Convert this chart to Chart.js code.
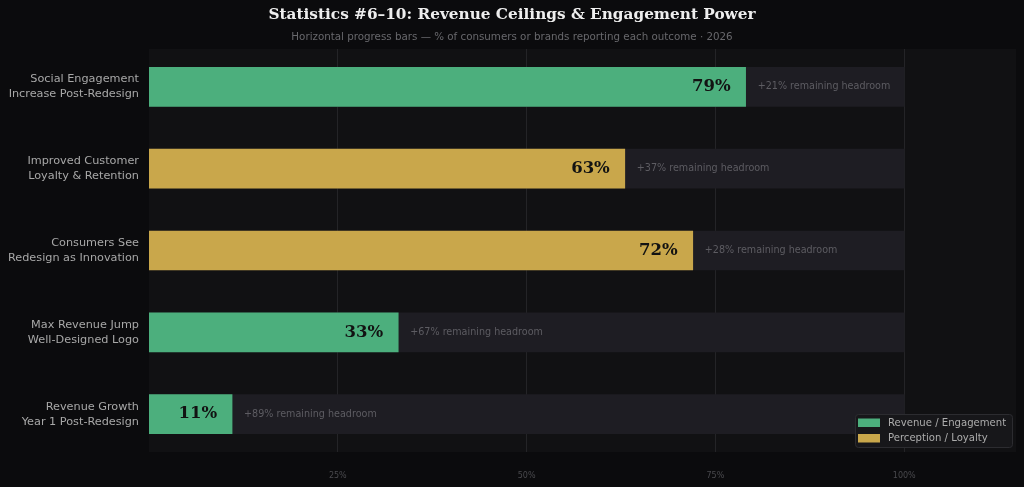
<!DOCTYPE html>
<html>
<head>
<meta charset="utf-8">
<script src="https://cdn.jsdelivr.net/npm/chart.js@4.4.1/dist/chart.umd.min.js"></script>
<style>
  html,body{margin:0;padding:0;background:#0b0b0d;}
  #wrap{width:1024px;height:487px;position:relative;}
</style>
</head>
<body>
<div id="wrap"><canvas id="c" width="1024" height="487"></canvas></div>
<script>
const titleText = 'Statistics #6–10: Revenue Ceilings & Engagement Power';
const subtitleText = 'Horizontal progress bars — % of consumers or brands reporting each outcome · 2026';
const categories = [
  ['Social Engagement','Increase Post-Redesign'],
  ['Improved Customer','Loyalty & Retention'],
  ['Consumers See','Redesign as Innovation'],
  ['Max Revenue Jump','Well-Designed Logo'],
  ['Revenue Growth','Year 1 Post-Redesign']
];
const values = [79, 63, 72, 33, 11];
const groups = ['rev', 'per', 'per', 'rev', 'rev'];
const trackValues = [100, 100, 100, 100, 100];
const xTicks = [25, 50, 75, 100];
const legendNames = ['Revenue / Engagement', 'Perception / Loyalty'];
const groupColors = { rev:'#4caf7d', per:'#c9a74b' };

const $ = (id) => document.getElementById(id);

const bgPlugin = {
  id:'bgPanel',
  beforeDraw(chart){
    const {ctx, chartArea:a} = chart;
    ctx.save();
    ctx.fillStyle = '#0b0b0d';
    ctx.fillRect(0,0,chart.width,chart.height);
    ctx.fillStyle = '#111113';
    ctx.fillRect(a.left, a.top+3, a.right-a.left, a.bottom-a.top-6);
    ctx.restore();
  },
  beforeDatasetsDraw(chart){
    // trim grid lines to the panel
    const {ctx, chartArea:a} = chart;
    ctx.save();
    ctx.fillStyle = '#0b0b0d';
    ctx.fillRect(a.left-1, a.top-1, a.right-a.left+2, 4);
    ctx.fillRect(a.left-1, a.bottom-3, a.right-a.left+2, 4);
    ctx.restore();
  },
  afterDraw(chart){
    const ctx = chart.ctx;
    ctx.save();
    ctx.textAlign = 'center'; ctx.textBaseline = 'middle';
    ctx.fillStyle = '#eeeeee';
    ctx.font = 'bold 15.3px "DejaVu Serif"';
    ctx.fillText(titleText, 512, 15);
    ctx.fillStyle = '#68686c';
    ctx.font = '10.3px "DejaVu Sans"';
    ctx.fillText(subtitleText, 512, 37);
    // legend
    const lx = 855, ly = 414, lw = 157, lh = 33;
    ctx.fillStyle = '#17171a';
    ctx.strokeStyle = '#2c2c30';
    ctx.lineWidth = 1;
    ctx.beginPath();
    ctx.roundRect(lx+0.5, ly+0.5, lw, lh, 3);
    ctx.fill(); ctx.stroke();
    const cols = [groupColors.rev, groupColors.per];
    legendNames.forEach((name,i)=>{
      const y = ly + 8.5 + i*15.5;
      ctx.fillStyle = cols[i];
      ctx.fillRect(lx+3, y-4, 22, 8.5);
      ctx.fillStyle = '#acacac';
      ctx.font = '10.1px "DejaVu Sans"';
      ctx.textAlign = 'left';
      ctx.fillText(name, lx+33, y+0.5);
    });
    ctx.restore();
  }
};

const labelPlugin = {
  id:'barLabels',
  afterDatasetsDraw(chart){
    const {ctx, scales:{x, y}} = chart;
    ctx.save();
    ctx.textBaseline = 'middle';
    values.forEach((v,i)=>{
      const px = x.getPixelForValue(v);
      const py = y.getPixelForValue(i);
      ctx.textAlign = 'right';
      ctx.fillStyle = '#121212';
      ctx.font = 'bold 16.5px "DejaVu Serif"';
      ctx.fillText(v + '%', px - 15, py);
      ctx.textAlign = 'left';
      ctx.fillStyle = '#5d5c62';
      ctx.font = '9.6px "DejaVu Sans"';
      ctx.fillText('+' + (100 - v) + '% remaining headroom', px + 12, py);
    });
    ctx.restore();
  }
};

new Chart($('c'), {
  type:'bar',
  data:{
    labels: categories,
    datasets:[
      { label:'value', data: values, backgroundColor: groups.map(g=>groupColors[g]), barThickness:39, order:0 },
      { label:'track', data: trackValues, backgroundColor:'#1e1d23', barThickness:39, order:1 }
    ]
  },
  options:{
    indexAxis:'y',
    responsive:false,
    animation:false,
    grouped:false,
    layout:{ padding:{ top:46, right:8, left:0, bottom:0 } },
    plugins:{ legend:{display:false}, tooltip:{enabled:false}, title:{display:false} },
    scales:{
      x:{
        min:0, max:114.8,
        afterBuildTicks(s){ s.ticks = xTicks.map(v=>({value:v})); },
        afterFit(s){ s.height = 32; },
        border:{ display:false },
        grid:{ color:'#242427', drawTicks:false, lineWidth:1 },
        ticks:{ color:'#4a4a4e', font:{ size:8, family:'DejaVu Sans' }, padding:16, callback:(v)=>v + '%' }
      },
      y:{
        afterFit(s){ s.width = 149; },
        border:{ display:false },
        grid:{ display:false, drawTicks:false },
        ticks:{ color:'#a8a8a8', font:{ size:11.25, family:'DejaVu Sans', lineHeight:1.33 }, padding:10 }
      }
    }
  },
  plugins:[bgPlugin, labelPlugin]
});
</script>
</body>
</html>
